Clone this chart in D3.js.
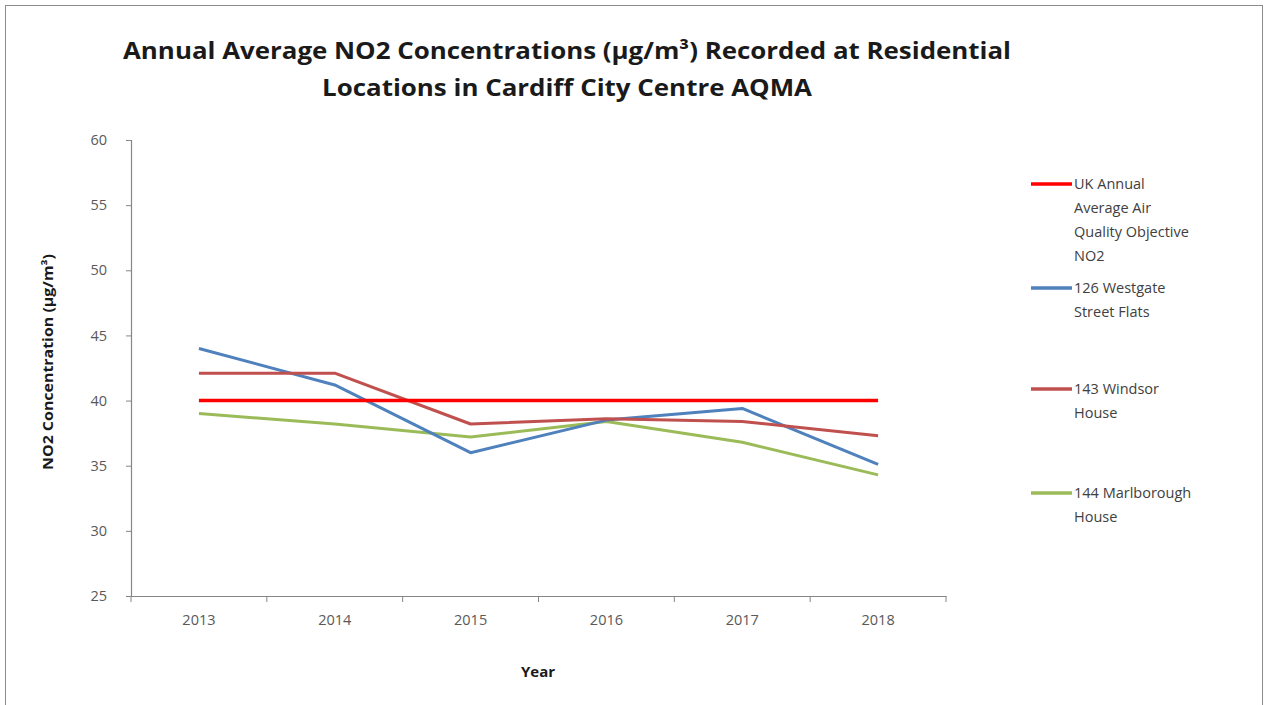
<!DOCTYPE html>
<html>
<head>
<meta charset="utf-8">
<script src="https://cdn.jsdelivr.net/npm/d3@7"></script>
<style>
  html, body { margin: 0; padding: 0; background: #fff; }
  svg { display: block; }
</style>
</head>
<body>
<svg id="chart" width="1269" height="705"></svg>
<script>
// Annual mean NO2 at residential receptors, Cardiff City Centre AQMA
const years = ["2013", "2014", "2015", "2016", "2017", "2018"];
const objectiveNO2 = [40, 40, 40, 40, 40, 40];
const westgateFlats = [44.0, 41.2, 36.0, 38.5, 39.4, 35.1];
const windsorHouse = [42.1, 42.1, 38.2, 38.6, 38.4, 37.3];
const marlboroughHouse = [39.0, 38.2, 37.2, 38.4, 36.8, 34.3];
const yTicks = [25, 30, 35, 40, 45, 50, 55, 60];

const seriesNames = [
  ["UK Annual", "Average Air", "Quality Objective", "NO2"],
  ["126 Westgate", "Street Flats"],
  ["143 Windsor", "House"],
  ["144 Marlborough", "House"]
];
const seriesColors = ["#ff0000", "#4f81bd", "#c0504d", "#9bbb59"];
const seriesValues = [objectiveNO2, westgateFlats, windsorHouse, marlboroughHouse];

const svg = d3.select("#chart");
const textFont = "'Open Sans', 'Liberation Sans', sans-serif";

// outer chart frame
svg.append("rect")
  .attr("x", 5.5).attr("y", 5.5)
  .attr("width", 1257).attr("height", 720)
  .attr("fill", "none").attr("stroke", "#8c8c8c").attr("stroke-width", 1);

const plot = { left: 131, right: 946, top: 140, bottom: 596 };

const x = d3.scaleBand().domain(years).range([plot.left, plot.right]);
const y = d3.scaleLinear().domain([25, 60]).range([plot.bottom, plot.top]);

// title
const title = svg.append("text")
  .attr("text-anchor", "middle")
  .attr("font-family", textFont)
  .attr("font-weight", "bold")
  .attr("font-size", 23.5)
  .attr("fill", "#1a1a1a");
title.append("tspan").attr("x", 567).attr("y", 59)
  .attr("textLength", 888).attr("lengthAdjust", "spacingAndGlyphs")
  .text("Annual Average NO2 Concentrations (µg/m³) Recorded at Residential");
title.append("tspan").attr("x", 567).attr("y", 96)
  .attr("textLength", 490).attr("lengthAdjust", "spacingAndGlyphs")
  .text("Locations in Cardiff City Centre AQMA");

// y axis
const yAxis = svg.append("g")
  .attr("transform", `translate(${plot.left},0)`)
  .call(d3.axisLeft(y).tickValues(yTicks).tickSize(5).tickPadding(19));
yAxis.select(".domain").attr("stroke", "#868686").attr("stroke-width", 1.2);
yAxis.selectAll(".tick line").attr("stroke", "#868686");
yAxis.selectAll(".tick text")
  .attr("font-family", textFont).attr("font-size", 14.5).attr("fill", "#595959");

// x axis: ticks sit on category boundaries
const xAxis = svg.append("g")
  .attr("transform", `translate(0,${plot.bottom})`)
  .call(d3.axisBottom(x).tickSize(0).tickPadding(19));
xAxis.select(".domain").attr("stroke", "#868686").attr("stroke-width", 1.2);
xAxis.selectAll(".tick text")
  .attr("font-family", textFont).attr("font-size", 14.5).attr("fill", "#595959");
const bounds = years.map(yr => x(yr)).concat([x(years[years.length - 1]) + x.bandwidth()]);
xAxis.selectAll(".bound")
  .data(bounds).enter().append("line")
  .attr("x1", d => d).attr("x2", d => d)
  .attr("y1", 0).attr("y2", 6)
  .attr("stroke", "#868686");

// axis titles
svg.append("text")
  .attr("transform", `translate(53,${(plot.top + plot.bottom) / 2 - 6}) rotate(-90)`)
  .attr("text-anchor", "middle")
  .attr("font-family", textFont).attr("font-weight", "bold").attr("font-size", 13.5)
  .attr("fill", "#1a1a1a")
  .attr("textLength", 216).attr("lengthAdjust", "spacingAndGlyphs")
  .text("NO2 Concentration (µg/m³)");

svg.append("text")
  .attr("x", 538).attr("y", 677)
  .attr("text-anchor", "middle")
  .attr("font-family", textFont).attr("font-weight", "bold").attr("font-size", 15)
  .attr("fill", "#1a1a1a")
  .text("Year");

// series lines
const line = d3.line()
  .x((d, i) => x(years[i]) + x.bandwidth() / 2)
  .y(d => y(d));

// monitoring sites first, then the objective line on top
const drawOrder = [3, 1, 2, 0];
drawOrder.forEach(k => {
  svg.append("path")
    .datum(seriesValues[k])
    .attr("d", line)
    .attr("fill", "none")
    .attr("stroke", seriesColors[k])
    .attr("stroke-width", k === 0 ? 3.5 : 3)
    .attr("stroke-linejoin", "round");
});

// legend
const legendTops = [184, 288, 389, 493];
const legend = svg.append("g");
seriesNames.forEach((lines, k) => {
  const top = legendTops[k];
  legend.append("line")
    .attr("x1", 1031).attr("x2", 1072)
    .attr("y1", top).attr("y2", top)
    .attr("stroke", seriesColors[k]).attr("stroke-width", 3.5);
  const t = legend.append("text")
    .attr("font-family", textFont).attr("font-size", 14.5).attr("fill", "#404040");
  lines.forEach((s, j) => {
    t.append("tspan").attr("x", 1074).attr("y", top + 5 + j * 24).text(s);
  });
});
</script>
</body>
</html>
